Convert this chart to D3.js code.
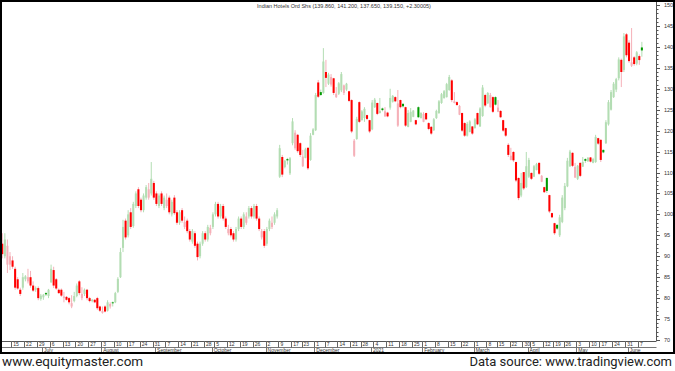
<!DOCTYPE html>
<html><head><meta charset="utf-8">
<script src="https://cdn.jsdelivr.net/npm/d3@7"></script>
<style>body{margin:0;background:#fff}svg{display:block}</style>
</head><body><svg id="c" width="675" height="371"></svg>
<script>
// ---- data ----
const titleText = "Indian Hotels Ord Shs (139.860, 141.200, 137.650, 139.150, +2.30005)";
const startDate = "2020-06-09", endDate = "2021-06-08";
const holidays = ["2020-10-02","2020-11-16","2020-11-30","2020-12-25","2021-01-26","2021-03-11","2021-03-29","2021-04-02","2021-04-14","2021-04-21","2021-05-13"];
const monthNames = ["January","February","March","April","May","June","July","August","September","October","November","December"];
const yTicks = [70,75,80,85,90,95,100,105,110,115,120,125,130,135,140,145,150];
const footerLeft = "www.equitymaster.com";
const footerRight = "Data source: www.tradingview.com";

const open = [
93,90,88,88,89,87,84.5,82,82.5,84.5,
84,85,83,82,82.4,79.8,80.2,81.2,80.5,83.8,
86.7,84.5,82,82,80,80.3,80,78,79.3,80.5,
84,80,81,82,80,79.3,79.6,80,78,76.5,
78,77,78,79,79,81.5,85,92,98.5,95,
100.5,97.2,102,106,103.5,101,104,104,105,107.5,
105,102,105,101.5,102,104,100,104,100.5,98,
101,97,98.5,96,93.5,95.5,93,90,93,95.5,
94,95.5,97,100,102.5,99.5,102,99,95.5,96.5,
95.5,94,96.5,99,97,98,99.5,101.5,99.5,102,
99,94.5,96,93,96.5,97,98,99.5,109,113.7,
111.3,113.2,109.8,117,115.8,119,117,111.5,113.5,115.9,
113,119,120.1,131.5,129.2,129,134,131.2,131,132.5,
128,128.8,129.6,129,129.8,129.4,127.3,114,118,126.8,
122.5,123,123.7,122.5,120.3,125.6,126.6,124.2,125.3,123.4,
124.3,125.5,126.9,128,121.2,127.3,126.4,125.6,120.9,122.1,
123.3,122.5,125.6,123,122.1,124.2,121.8,120.9,120.1,123,
124.2,126.6,127.8,128,129.7,132,126.6,126.8,123.8,124.2,
121.8,118.8,119.7,121,120.6,124.2,121,123.5,128.5,126.5,
125.6,128,128,124.5,124.7,122.5,120.6,116.6,113,114.9,
112.5,108.7,104.5,110.1,106.5,109,109.9,109,110.6,112.3,
107.8,106.5,108.7,104.6,100.3,97.9,97.5,95,98.2,101.5,
106.7,111.5,114.7,108.8,108.5,112.3,111.4,113.2,112.7,113.6,
112.3,112.5,118.2,117.8,115.4,117,121.5,125,128,129.8,
132.5,136.9,134.5,143,141,135.5,137.5,136,137.8,139.86
];
const high = [
95.5,95.5,94,91,90,87.5,85,82.5,86,85.5,
87,86.5,84,82.8,82.8,81,81,81.5,82.2,88,
87.5,84.8,82.3,82.3,81.5,80.5,80.3,80.7,81.5,83.5,
84.3,82.6,82.3,82.2,80.3,79.8,79.8,80.3,78.2,78,
78.3,79.5,79,79.2,81.5,85,92,98.7,99,101,
101.5,103,105.5,106.5,104,105,107,107.5,112.5,108,
105.5,105,105.5,104.5,105,104.5,103.5,104.6,101,101,
101.5,99.5,99,96.5,96.5,96,93.5,93.5,96,96,
97.5,97.5,100.5,103,103,102.5,102.5,99.5,97.5,97,
96,97,99.5,99.5,100.5,100.5,102,102,102.5,102.5,
99.5,96.5,96.5,97,99,99.5,100.5,101.5,116.6,114.2,
113,113.5,113.7,123,120.1,119.2,117.2,115.4,115.9,116,
119.4,120.6,129,132.1,129.8,139.7,136.9,133.8,133.5,132.6,
130.4,131.6,134,131,131.4,129.5,127.5,118,123.3,127,
124.9,125.6,123.8,122.6,127.3,127.8,126.7,127.8,125.5,125.6,
124.5,130,128.5,128.2,129.7,127.4,126.5,125.7,124.9,125.4,
124.9,122.6,125.8,124.4,124.4,124.3,122,121.1,123,125,
127.3,129,129.7,131.4,133.3,132.3,129.2,127,126.1,124.3,
122,122.1,122.5,121.1,123,124.3,125.6,130.9,128.8,129.2,
129,128.2,128.2,127.3,124.9,122.6,120.7,117,115.9,115.1,
112.6,108.8,109.9,110.1,114.9,113.5,110,111.8,112.3,112.4,
109.4,106.6,108.8,104.7,100.4,98,97.6,99.9,104.6,107.5,
113.5,115.4,114.8,112.3,111.8,112.4,113.7,113.4,113.7,113.7,
113.5,119,118.3,117.9,115.5,122.5,127.3,129.7,131.6,132.6,
137.5,137.2,143.3,143.3,141.6,144.5,137.8,139,138.2,141.2
];
const low = [
89.5,89.5,86,86.7,87,82,82,80.5,82,84,
83.5,82.5,81.5,81.5,79.5,79.4,79.6,80.5,80,83.6,
82.4,82,81,80.3,79,79.4,78.5,77.6,79,80.2,
80.7,79.5,80.5,79.5,79,79,78.8,77.2,76.7,76.3,
76.6,76.8,77.5,78,78.8,81.2,84.8,91,94,94.5,
96.5,96.8,101.5,101.5,100.5,100.5,103.5,103.5,104.5,103.5,
102,101.5,102,101,101.5,100,99.5,99.9,97.5,97.5,
98,96.5,95.5,93.5,93,92,89,89.5,92.5,93.5,
93.5,95,96.5,99.5,99,99,98.5,96.5,95,94.5,
93.5,93.5,96,96.5,96.5,97.5,99,99,99,98.5,
96,94,92,92.5,96,96.5,97.5,99,108.7,108.9,
111,111.9,109.4,116.5,115.4,114.7,113.7,111.3,113.4,110.6,
112.8,118.9,119.9,127.8,128.3,128.8,130.4,130.9,130.5,128.5,
127.8,128.5,129.2,128.5,129.5,126.8,119.4,113.7,117.8,121.8,
122.4,122.1,122.5,119.4,120.1,125.4,123.7,124.1,124.6,123.3,
123.2,125,126.7,126.8,120.9,125.3,125.5,120.9,120.8,122,
123.2,121.3,123,122.9,122,122.5,120.1,119,119.9,122.8,
124,126.4,127.6,127.9,129.5,126.8,126.5,126,123.7,119.7,
118.5,118.6,119.6,119,120.5,121.3,120.9,123.3,125.6,126.4,
125.5,124.2,126,124.4,123,119.7,118.5,113.7,112.9,112.5,
107.7,103.4,104.1,105.8,106.3,108.7,108.2,108.9,110.5,109.4,
107.7,105.1,105.1,100.3,99.1,95.1,96.3,94.6,97.9,101,
106.5,111.3,111.3,108.7,108.2,108.9,111.3,112.3,112.5,112.4,
112.2,112.3,116.6,112.5,114.6,116.8,121.2,124.8,127.8,129.2,
132,130.4,134,137.5,136.2,135.2,135.5,135.6,135.7,137.65
];
const close = [
90.5,94,92.5,90,87.5,82.5,82.3,81,85,85.2,
85,83,81.8,82.4,80,80.6,80.8,80.9,82,87,
83,82.3,81.2,80.6,80.4,79.6,79,78.8,80.5,83,
81.2,81,82,80,79.3,79.6,79,77.6,77,76.9,
76.8,79,78.6,78.8,81.2,84.6,91,97,94.5,100,
97,102.5,105,102,101,104.5,106.5,106,108.5,104,
102.5,104.5,102.5,104,103.5,100.5,103,100.3,98,100.5,
98.5,98.2,96,94,96,92.5,89.8,93,95.5,94,
97,96.8,100,102.5,99.5,102,99,97,96.5,95,
94,96.5,99,97,100,99.5,101.5,99.5,102,99,
96.5,96,92.5,96.5,98.5,98,100,101,115.8,109.5,
112.8,112.9,113.4,122.2,119.5,115.1,114.2,113.8,115.5,111,
118.8,120.3,128.5,128.1,128.5,136.5,132.6,133.4,132.8,129,
128.8,131.3,133.5,130.8,131.2,127.1,119.8,117.6,122.8,122.1,
124.6,125.2,122.8,119.8,126.7,127.4,124,124.7,124.9,124.6,
123.4,127.8,128.3,127,126.5,125.6,125.8,121.2,124.2,124.5,
124.8,121.5,123.2,124.2,124,122.7,120.4,119.3,122.7,124.7,
127,128.7,129.4,131.1,132.8,127.3,127,126.1,125.9,120,
118.8,121.6,122.2,119.3,122.7,121.5,125.3,130.3,126,129,
128.5,124.5,126.2,125.5,123.2,120,118.8,114.2,114,112.9,
108.1,103.9,107.5,106.2,111.5,113,108.5,111.5,112,109.7,
109.2,105.3,105.6,100.7,99.3,95.5,96.6,99.3,104,106.8,
112.8,115,111.6,111.3,111.6,109.2,112.5,112.8,113.5,112.6,
113.2,118.5,116.9,113,114.8,122,126.8,129.2,131.2,132.3,
137,134,142.5,138,136.6,136.3,135.9,138.7,136.85,139.15
];

// ---- build ----
const parse = d3.utcParse("%Y-%m-%d"), fmt = d3.utcFormat("%Y-%m-%d");
const dates = d3.utcDays(parse(startDate), d3.utcDay.offset(parse(endDate), 1))
  .filter(d => d.getUTCDay() % 6 !== 0 && !holidays.includes(fmt(d)));
const N = Math.min(dates.length, open.length, high.length, low.length, close.length);
const candles = d3.range(N).map(i => ({i, date: dates[i], o: open[i], h: high[i], l: low[i], c: close[i]}));

const svg = d3.select("#c");
const plot = {left: 1, right: 656, top: 2, bottom: 341};
const x = d3.scaleBand().domain(d3.range(N + 5)).range([plot.left, plot.right]);
const y = d3.scaleLinear().domain([70, 150]).range([340, 5]);
const step = x.step();
const cx = i => x(i) + step / 2;

const C = {upSolid: "#009a00", dnSolid: "#ff0000", upPale: "#b3ddb3", dnPale: "#f5b0b8"};

// candles
const g = svg.append("g");
candles.forEach(d => {
  const prev = d.i === 0 ? d.o : close[d.i - 1];
  d.up = d.c >= prev;
  d.hollow = d.c > d.o;
});
g.selectAll("line.wick").data(candles).join("line")
  .attr("x1", d => cx(d.i)).attr("x2", d => cx(d.i))
  .attr("y1", d => y(d.h)).attr("y2", d => y(d.l))
  .attr("stroke", d => d.up ? C.upPale : C.dnPale).attr("stroke-width", 1);
const bw = step * 0.8;
g.selectAll("rect.body").data(candles).join("rect")
  .attr("x", d => cx(d.i) - bw / 2).attr("width", bw)
  .attr("y", d => y(Math.max(d.o, d.c)))
  .attr("height", d => Math.max(1, Math.abs(y(d.o) - y(d.c))))
  .attr("fill", d => d.hollow ? (d.up ? C.upPale : C.dnPale) : (d.up ? C.upSolid : C.dnSolid));

// right axis
const ax = svg.append("g").attr("transform", `translate(${plot.right},0)`);
ax.append("line").attr("x1", 0.5).attr("x2", 0.5).attr("y1", plot.top).attr("y2", plot.bottom).attr("stroke", "#555");
const minor = d3.range(70, 151, 1);
ax.selectAll("line.mn").data(minor).join("line")
  .attr("x1", 0.5).attr("x2", d => d % 5 === 0 ? 4 : 2.5)
  .attr("y1", d => Math.round(y(d)) + 0.5).attr("y2", d => Math.round(y(d)) + 0.5)
  .attr("stroke", "#555").attr("stroke-width", 1);
ax.selectAll("text").data(yTicks).join("text")
  .attr("x", 8).attr("y", d => y(d) + 2)
  .attr("font-family", "Liberation Sans, Arial, sans-serif").attr("font-size", 5.5)
  .attr("fill", "#333").text(d => d);

// bottom axis
const bx = svg.append("g");
const rowTop = plot.bottom, rowBot = 347.5;
bx.append("line").attr("x1", plot.left).attr("x2", plot.right + 0.5).attr("y1", rowTop + 0.5).attr("y2", rowTop + 0.5).attr("stroke", "#555");
bx.append("line").attr("x1", plot.left).attr("x2", plot.right + 0.5).attr("y1", rowBot).attr("y2", rowBot).attr("stroke", "#777");
const weekStarts = candles.filter(d => d.i > 0 && (d.date - candles[d.i - 1].date) / 864e5 > 1 && d.date.getUTCDay() <= candles[d.i - 1].date.getUTCDay());
const monthStarts = candles.filter(d => d.i > 0 && d.date.getUTCMonth() !== candles[d.i - 1].date.getUTCMonth());
bx.selectAll("line.wk").data(weekStarts).join("line")
  .attr("x1", d => Math.round(x(d.i)) + 0.5).attr("x2", d => Math.round(x(d.i)) + 0.5)
  .attr("y1", rowTop).attr("y2", rowBot).attr("stroke", "#666");
bx.selectAll("text.wk").data(weekStarts).join("text")
  .attr("x", d => x(d.i) + 2).attr("y", rowBot - 1.2)
  .attr("font-family", "Liberation Sans, Arial, sans-serif").attr("font-size", 5)
  .attr("fill", "#333").text(d => d.date.getUTCDate());
bx.selectAll("line.mo").data(monthStarts).join("line")
  .attr("x1", d => Math.round(x(d.i)) + 0.5).attr("x2", d => Math.round(x(d.i)) + 0.5)
  .attr("y1", rowBot).attr("y2", 352).attr("stroke", "#777");
bx.selectAll("text.mo").data(monthStarts).join("text")
  .attr("x", d => x(d.i) + 2).attr("y", 352)
  .attr("font-family", "Liberation Sans, Arial, sans-serif").attr("font-size", 5)
  .attr("fill", "#333")
  .text(d => d.date.getUTCMonth() === 0 ? d.date.getUTCFullYear() : monthNames[d.date.getUTCMonth()]);

// title
svg.append("text").attr("x", 344).attr("y", 8).attr("text-anchor", "middle")
  .attr("font-family", "Liberation Sans, Arial, sans-serif").attr("font-size", 5.5)
  .attr("fill", "#333").text(titleText);

// frame
svg.append("rect").attr("x", 1).attr("y", 1).attr("width", 673).attr("height", 352)
  .attr("fill", "none").attr("stroke", "#000").attr("stroke-width", 2);

// footer
svg.append("text").attr("x", 2).attr("y", 366).attr("font-family", "Roboto, Open Sans, sans-serif")
  .attr("font-size", 13.5).attr("fill", "#222").text(footerLeft);
svg.append("text").attr("x", 672).attr("y", 366).attr("text-anchor", "end").attr("font-family", "Roboto, Open Sans, sans-serif")
  .attr("font-size", 13).attr("fill", "#222").text(footerRight);
</script></body></html>
